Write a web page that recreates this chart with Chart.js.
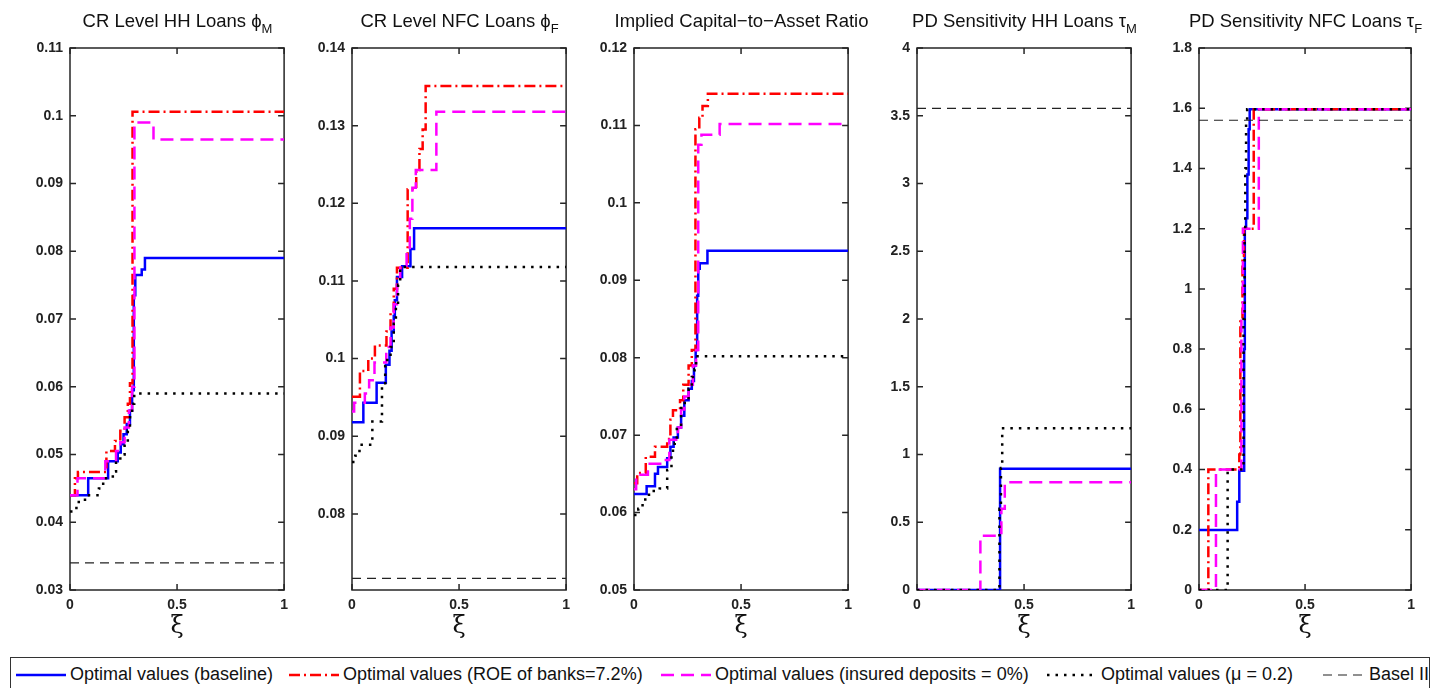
<!DOCTYPE html>
<html>
<head>
<meta charset="utf-8">
<script src="https://cdn.jsdelivr.net/npm/chart.js@4.4.1/dist/chart.umd.min.js"></script>
<style>
  body { margin: 0; background: #fff; }
  #fig { position: relative; width: 1442px; height: 688px; overflow: hidden; font-family: "Liberation Sans", Arial, sans-serif; }
  #fig canvas { position: absolute; top: 0; }
  .ttl { position: absolute; top: 10px; text-align: center; font-size: 18.5px; line-height: 22px; color: #111; white-space: nowrap; }
  .ttl sub { font-size: 13px; vertical-align: -6px; line-height: 0; }
  #legend { position: absolute; left: 10px; top: 657px; width: 1420px; height: 40px; border: 1.2px solid #333; box-sizing: border-box; }
  #legend .item { position: absolute; top: 6px; font-size: 18px; line-height: 20px; color: #111; white-space: nowrap; }
  #legend svg { vertical-align: middle; margin-right: 4px; }
</style>
</head>
<body>
<div id="fig"><div id="legend"></div></div>
<script>
// xi grid shared by all panels
const xiTicks = [0, 0.5, 1];

// series labels
const seriesLabels = [
    'Optimal values (baseline)',
    'Optimal values (ROE of banks=7.2%)',
    'Optimal values (insured deposits = 0%)',
    'Optimal values (\u03bc = 0.2)',
    'Basel II'
];

// CR level HH loans, phi_M  [xi, value]
const crHHBase = [[0,0.044],[0.085,0.0465],[0.178,0.049],[0.223,0.0503],[0.237,0.0515],[0.25,0.053],[0.265,0.0545],[0.28,0.0565],[0.29,0.0595],[0.298,0.0735],[0.305,0.0765],[0.335,0.0773],[0.35,0.079],[1,0.079]];
const crHHRoe = [[0,0.044],[0.023,0.0465],[0.037,0.0474],[0.17,0.0505],[0.21,0.052],[0.235,0.0535],[0.255,0.0555],[0.27,0.0575],[0.28,0.0605],[0.292,0.1006],[1,0.1006]];
const crHHIns = [[0,0.044],[0.035,0.0465],[0.165,0.049],[0.215,0.0505],[0.235,0.0518],[0.255,0.054],[0.275,0.0565],[0.29,0.06],[0.301,0.099],[0.39,0.0965],[1,0.0965]];
const crHHMu = [[0,0.0416],[0.03,0.043],[0.07,0.044],[0.135,0.045],[0.155,0.0465],[0.2,0.0475],[0.215,0.049],[0.235,0.05],[0.255,0.0515],[0.27,0.0535],[0.28,0.0555],[0.29,0.0575],[0.3,0.059],[1,0.059]];
const crHHBasel = [[0,0.034],[1,0.034]];

// CR level NFC loans, phi_F
const crNFCBase = [[0,0.0918],[0.053,0.0943],[0.115,0.0969],[0.158,0.0992],[0.175,0.101],[0.185,0.1035],[0.195,0.1055],[0.2,0.1075],[0.21,0.1105],[0.234,0.1119],[0.273,0.1141],[0.29,0.1168],[1,0.1168]];
const crNFCRoe = [[0,0.0951],[0.037,0.0984],[0.076,0.1],[0.107,0.1017],[0.161,0.1035],[0.18,0.106],[0.195,0.109],[0.21,0.1117],[0.26,0.1218],[0.3,0.1243],[0.315,0.127],[0.33,0.1295],[0.344,0.1351],[1,0.1351]];
const crNFCIns = [[0,0.0932],[0.01,0.0943],[0.06,0.0955],[0.08,0.0972],[0.105,0.0995],[0.16,0.1015],[0.18,0.104],[0.195,0.107],[0.21,0.1095],[0.225,0.112],[0.255,0.114],[0.27,0.118],[0.282,0.122],[0.298,0.1243],[0.394,0.1318],[1,0.1318]];
const crNFCMu = [[0,0.0867],[0.015,0.0875],[0.035,0.0889],[0.095,0.0919],[0.14,0.0965],[0.155,0.099],[0.165,0.1],[0.18,0.1015],[0.195,0.1045],[0.205,0.107],[0.215,0.1095],[0.225,0.1118],[1,0.1118]];
const crNFCBasel = [[0,0.0717],[1,0.0717]];

// implied capital-to-asset ratio
const carBase = [[0,0.0624],[0.059,0.0634],[0.098,0.065],[0.112,0.0659],[0.155,0.067],[0.17,0.0685],[0.185,0.0697],[0.205,0.071],[0.22,0.0725],[0.235,0.0745],[0.255,0.076],[0.27,0.077],[0.28,0.079],[0.288,0.081],[0.295,0.088],[0.3,0.0915],[0.307,0.0922],[0.343,0.0938],[1,0.0938]];
const carRoe = [[0,0.0638],[0.015,0.0651],[0.055,0.0672],[0.098,0.0685],[0.155,0.0695],[0.17,0.072],[0.182,0.0732],[0.215,0.0745],[0.23,0.0765],[0.255,0.079],[0.27,0.081],[0.287,0.1095],[0.305,0.111],[0.32,0.1125],[0.345,0.1141],[1,0.1141]];
const carIns = [[0,0.063],[0.01,0.0649],[0.065,0.0663],[0.13,0.0668],[0.165,0.0694],[0.205,0.071],[0.22,0.0733],[0.235,0.075],[0.255,0.0765],[0.275,0.079],[0.29,0.081],[0.3,0.1075],[0.315,0.1088],[0.4,0.1102],[1,0.1102]];
const carMu = [[0,0.0597],[0.02,0.0605],[0.04,0.0617],[0.07,0.0628],[0.12,0.0631],[0.155,0.0655],[0.175,0.068],[0.19,0.069],[0.2,0.071],[0.22,0.0735],[0.237,0.0745],[0.255,0.076],[0.27,0.0775],[0.283,0.0785],[0.29,0.0802],[1,0.0802]];

// PD sensitivity HH loans, tau_M
const pdHHBase = [[0,0],[0.388,0.895],[1,0.895]];
const pdHHIns = [[0,0],[0.296,0.4],[0.394,0.6],[0.41,0.795],[1,0.795]];
const pdHHMu = [[0,0],[0.385,0.6],[0.392,0.9],[0.398,1.15],[0.402,1.193],[1,1.193]];
const pdHHBasel = [[0,3.555],[1,3.555]];

// PD sensitivity NFC loans, tau_F
const pdNFCBase = [[0,0.199],[0.18,0.293],[0.19,0.396],[0.213,0.8],[0.216,1.2],[0.222,1.235],[0.228,1.38],[0.234,1.53],[0.239,1.597],[1,1.597]];
const pdNFCRoe = [[0,0],[0.044,0.4],[0.19,0.45],[0.195,0.9],[0.205,1.1],[0.212,1.2],[0.258,1.597],[1,1.597]];
const pdNFCIns = [[0,0],[0.08,0.4],[0.2,0.9],[0.207,1.2],[0.282,1.597],[1,1.597]];
const pdNFCMu = [[0,0],[0.135,0.4],[0.21,0.9],[0.215,1.2],[0.218,1.4],[0.222,1.55],[0.227,1.597],[1,1.597]];
const pdNFCBasel = [[0,1.56],[1,1.56]];

const styles = [
    {color: '#0000ff', dash: [], width: 2.5},
    {color: '#ff0000', dash: [11, 4, 2, 4], width: 2.5},
    {color: '#ff00ff', dash: [13, 7], width: 2.5},
    {color: '#000000', dash: [2.5, 6], width: 2.5},
    {color: '#222222', dash: [9, 6], width: 1.2}
];

const panels = [
    {title: 'CR Level HH Loans \u03d5', sub: 'M', left: 70, width: 215, min: 0.03, max: 0.11, step: 0.01,
        series: [crHHBase, crHHRoe, crHHIns, crHHMu, crHHBasel]},
    {title: 'CR Level NFC Loans \u03d5', sub: 'F', left: 352, width: 215, min: 0.0702, max: 0.14, step: 0.01,
        series: [crNFCBase, crNFCRoe, crNFCIns, crNFCMu, crNFCBasel]},
    {title: 'Implied Capital\u2212to\u2212Asset Ratio', sub: '', left: 634, width: 215, min: 0.05, max: 0.12, step: 0.01,
        series: [carBase, carRoe, carIns, carMu, null]},
    {title: 'PD Sensitivity HH Loans \u03c4', sub: 'M', left: 917, width: 215, min: 0, max: 4, step: 0.5,
        series: [pdHHBase, null, pdHHIns, pdHHMu, pdHHBasel]},
    {title: 'PD Sensitivity NFC Loans \u03c4', sub: 'F', left: 1199, width: 213, min: 0, max: 1.8, step: 0.2,
        series: [pdNFCBase, pdNFCRoe, pdNFCIns, pdNFCMu, pdNFCBasel]}
];

const AXIS_W = 70, TOP = 48, XAXIS_H = 60, RIGHT_PAD = 10, H = 650;
const tickFont = {family: '"Liberation Sans", Arial, sans-serif', size: 14, weight: 'bold'};

// matlab-like tick text: 0.1 not 0.10, 4 not 4.0
let tickText = value => String(parseFloat(Number(value).toFixed(4)));

// matlab style box with inward ticks on all four sides
const framePlugin = {
    id: 'frame',
    beforeDatasetsDraw(chart) {
        const {ctx, chartArea: a, scales: {x, y}} = chart;
        const len = 6;
        ctx.save();
        ctx.strokeStyle = '#262626';
        ctx.lineWidth = 1.5;
        ctx.strokeRect(a.left, a.top, a.right - a.left, a.bottom - a.top);
        ctx.beginPath();
        x.ticks.forEach(t => {
            let px = x.getPixelForValue(t.value);
            ctx.moveTo(px, a.bottom); ctx.lineTo(px, a.bottom - len);
            ctx.moveTo(px, a.top); ctx.lineTo(px, a.top + len);
        });
        y.ticks.forEach(t => {
            let py = y.getPixelForValue(t.value);
            ctx.moveTo(a.left, py); ctx.lineTo(a.left + len, py);
            ctx.moveTo(a.right, py); ctx.lineTo(a.right - len, py);
        });
        ctx.stroke();
        ctx.restore();
    }
};

let fig = document.getElementById('fig');

panels.forEach(panel => {
    let canvas = document.createElement('canvas');
    canvas.width = AXIS_W + panel.width + RIGHT_PAD;
    canvas.height = H;
    canvas.style.left = (panel.left - AXIS_W) + 'px';
    fig.appendChild(canvas);

    let title = document.createElement('div');
    title.className = 'ttl';
    title.style.left = (panel.left - 30) + 'px';
    title.style.width = (panel.width + 60) + 'px';
    title.innerHTML = panel.title + (panel.sub ? '<sub>' + panel.sub + '</sub>' : '');
    fig.appendChild(title);

    let datasets = [];
    panel.series.forEach((pts, i) => {
        if (pts === null) {
            return;
        }
        let st = styles[i];
        datasets.push({
            label: seriesLabels[i],
            data: pts.map(p => ({x: p[0], y: p[1]})),
            stepped: 'before',
            borderColor: st.color,
            borderWidth: st.width,
            borderDash: st.dash,
            pointRadius: 0,
            fill: false,
            order: 5 - i
        });
    });

    new Chart(canvas.getContext('2d'), {
        type: 'line',
        data: {datasets: datasets},
        options: {
            responsive: false,
            animation: false,
            events: [],
            layout: {padding: {top: TOP, right: RIGHT_PAD, left: 0, bottom: 0}},
            plugins: {legend: {display: false}, tooltip: {enabled: false}},
            scales: {
                x: {
                    type: 'linear', min: 0, max: 1,
                    grid: {display: false, drawTicks: false},
                    border: {display: false},
                    afterBuildTicks: scale => { scale.ticks = xiTicks.map(v => ({value: v})); },
                    ticks: {padding: 7, color: '#222', font: tickFont, maxRotation: 0, autoSkip: false,
                        callback: tickText},
                    title: {display: true, text: '\u03be', color: '#111',
                        font: {family: '"DejaVu Serif", "Liberation Serif", serif', size: 24},
                        padding: {top: 0, bottom: 9}},
                    afterFit: scale => { scale.height = XAXIS_H; }
                },
                y: {
                    type: 'linear', min: panel.min, max: panel.max,
                    grid: {display: false, drawTicks: false},
                    border: {display: false},
                    ticks: {stepSize: panel.step, includeBounds: false, padding: 7, color: '#222', font: tickFont,
                        callback: tickText},
                    afterFit: scale => { scale.width = AXIS_W; }
                }
            }
        },
        plugins: [framePlugin]
    });
});

// legend across the bottom
let legend = document.getElementById('legend');
let legendX = [5, 278, 650, 1036, 1312];
let legendW = [50, 50, 50, 50, 42];
seriesLabels.forEach((label, i) => {
    let st = styles[i];
    let w = legendW[i];
    let item = document.createElement('span');
    item.className = 'item';
    item.style.left = legendX[i] + 'px';
    item.innerHTML = '<svg width="' + w + '" height="12"><line x1="0" y1="6" x2="' + w + '" y2="6" stroke="' + st.color +
        '" stroke-width="' + st.width + '" stroke-dasharray="' + (st.dash.length ? st.dash.join(',') : 'none') +
        '"/></svg>' + label;
    legend.appendChild(item);
});
</script>
</body>
</html>
